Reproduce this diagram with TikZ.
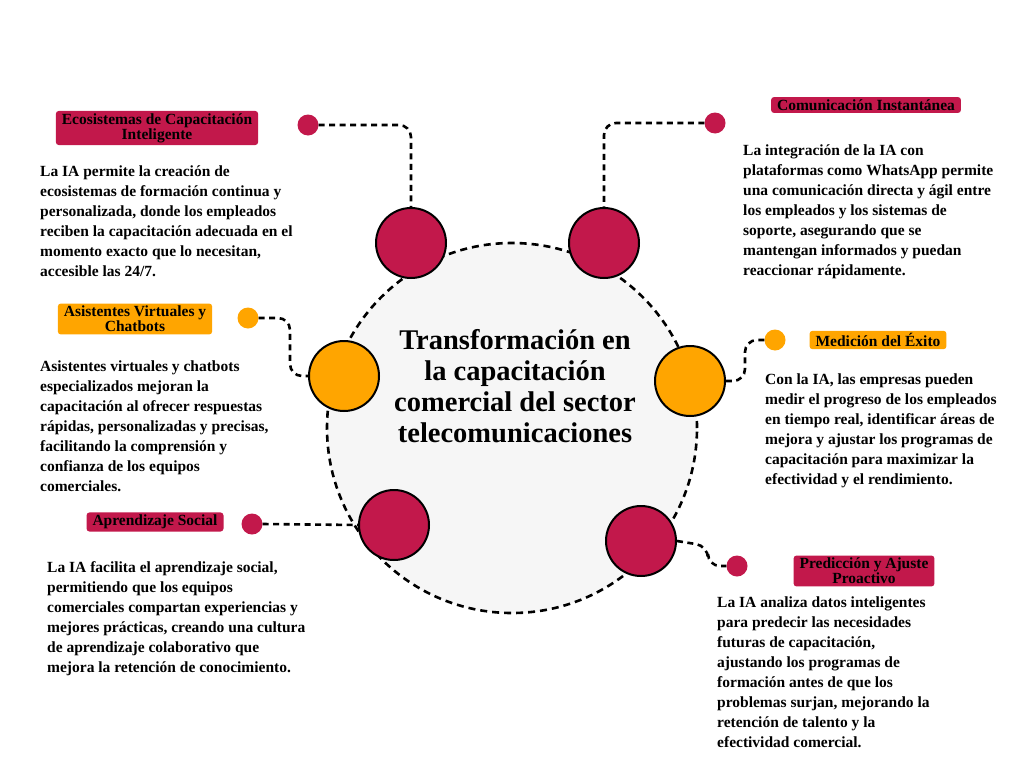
\documentclass[tikz,border=0pt]{standalone}
\usepackage{fontspec}
\setmainfont{Liberation Serif}
\definecolor{crim}{HTML}{C2184B}
\definecolor{ora}{HTML}{FFA500}
\definecolor{bgc}{HTML}{F6F6F6}
\begin{document}
\begin{tikzpicture}[x=1pt,y=-1pt,
 big/.style={circle,draw=black,line width=2pt,minimum size=70pt,inner sep=0pt},
 dot/.style={circle,minimum size=21pt,inner sep=0pt},
 conn/.style={draw=black,line width=2.6pt,dash pattern=on 6pt off 4.5pt,rounded corners=12pt},
 lab/.style={rounded corners=3pt,inner xsep=6pt,inner ysep=2.5pt,font=\bfseries\fontsize{15.5}{15}\selectfont,align=center,text=black},
 body/.style={anchor=north west,align=left,inner sep=0pt,font=\bfseries\fontsize{15.5}{20}\selectfont}]
\useasboundingbox (0,0) rectangle (1024,768);
\fill[white] (0,0) rectangle (1024,768);
\node[circle,fill=bgc,draw=black,line width=2.6pt,dash pattern=on 7pt off 5pt,minimum size=370pt] (C) at (512,428) {};
\node[font=\bfseries\fontsize{28.5}{31}\selectfont,align=center] (T) at (515,386) {Transformación en\\la capacitación\\comercial del sector\\telecomunicaciones};
\node[big,fill=crim] (a) at (411,243) {};
\node[big,fill=crim] (b) at (604,243) {};
\node[big,fill=ora] (c) at (344,376) {};
\node[big,fill=ora] (d) at (690,381) {};
\node[big,fill=crim] (e) at (394,525) {};
\node[big,fill=crim] (f) at (641,541) {};
\node[dot,fill=crim] (da) at (308,125) {};
\node[dot,fill=crim] (db) at (715,123) {};
\node[dot,fill=ora] (dc) at (248,318) {};
\node[dot,fill=ora] (dd) at (775,340) {};
\node[dot,fill=crim] (de) at (252,524) {};
\node[dot,fill=crim] (df) at (737,566) {};
\draw[conn] (da.east) -- (411,125) -- (a.north);
\draw[conn] (db.west) -- (604,123) -- (b.north);
\draw[conn] (dc.east) -- (290,318) -- (290,376) -- (c.west);
\draw[conn] (dd.west) -- (745,340) -- (745,381) -- (d.east);
\draw[conn] (de.east) -- (e.west);
\draw[conn] (f.east) -- (708,546) -- (708,566) -- (df.west);
\node[lab,fill=crim] (la) at (157,128) {Ecosistemas de Capacitación\\Inteligente};
\node[lab,fill=crim] (lb) at (866,105) {Comunicación Instantánea};
\node[lab,fill=ora] (lc) at (135,319) {Asistentes Virtuales y\\Chatbots};
\node[lab,fill=ora] (ld) at (878,340) {Medición del Éxito};
\node[lab,fill=crim] (le) at (155,522) {Aprendizaje Social};
\node[lab,fill=crim] (lf) at (864,571) {Predicción y Ajuste\\Proactivo};
\node[body] (ta) at (40,166) {La IA permite la creación de\\ecosistemas de formación continua y\\personalizada, donde los empleados\\reciben la capacitación adecuada en el\\momento exacto que lo necesitan,\\accesible las 24/7.};
\node[body] (tb) at (743,145) {La integración de la IA con\\plataformas como WhatsApp permite\\una comunicación directa y ágil entre\\los empleados y los sistemas de\\soporte, asegurando que se\\mantengan informados y puedan\\reaccionar rápidamente.};
\node[body] (tc) at (40,361) {Asistentes virtuales y chatbots\\especializados mejoran la\\capacitación al ofrecer respuestas\\rápidas, personalizadas y precisas,\\facilitando la comprensión y\\confianza de los equipos\\comerciales.};
\node[body] (td) at (765,374) {Con la IA, las empresas pueden\\medir el progreso de los empleados\\en tiempo real, identificar áreas de\\mejora y ajustar los programas de\\capacitación para maximizar la\\efectividad y el rendimiento.};
\node[body] (te) at (47,561) {La IA facilita el aprendizaje social,\\permitiendo que los equipos\\comerciales compartan experiencias y\\mejores prácticas, creando una cultura\\de aprendizaje colaborativo que\\mejora la retención de conocimiento.};
\node[body] (tf) at (717,597) {La IA analiza datos inteligentes\\para predecir las necesidades\\futuras de capacitación,\\ajustando los programas de\\formación antes de que los\\problemas surjan, mejorando la\\retención de talento y la\\efectividad comercial.};
\end{tikzpicture}
\end{document}
